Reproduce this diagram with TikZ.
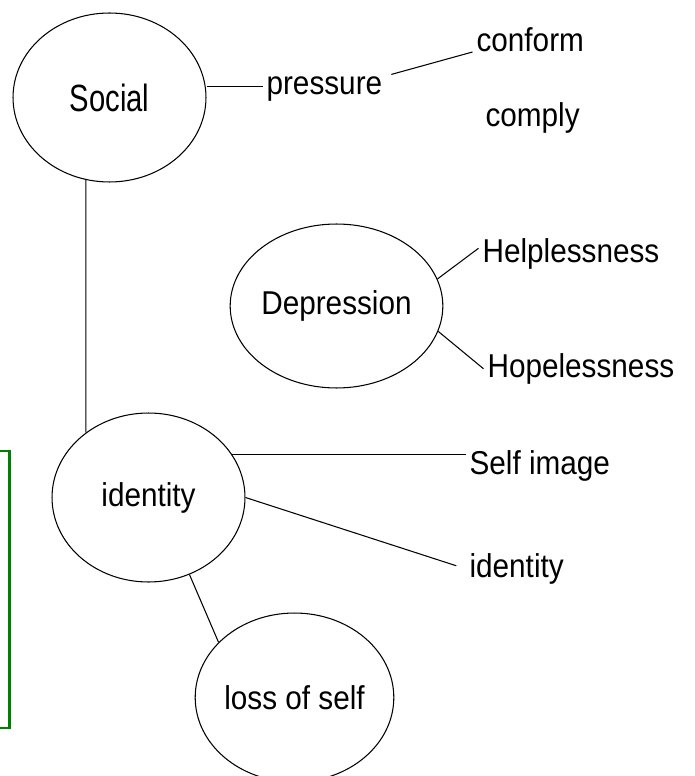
\documentclass[tikz,border=0pt]{standalone}
\usepackage{fontspec}
\newfontfamily\wordfont[FakeStretch=0.9]{Liberation Sans}
\newfontfamily\bigwordfont[FakeStretch=0.77]{Liberation Sans}
\usetikzlibrary{shapes.geometric}
\definecolor{framegreen}{RGB}{0,128,0}

\begin{document}
\begin{tikzpicture}[x=0.02cm,y=-0.02cm,line width=0.6pt,
    bubble/.style={draw,ellipse,minimum width=3.86cm,minimum height=3.38cm,inner sep=0pt,
      font=\wordfont\fontsize{18.8}{22}\selectfont},
    word/.style={inner xsep=2pt,inner ysep=0pt,text height=0.47cm,text depth=0.14cm,
      anchor=base west,font=\wordfont\fontsize{18.8}{22}\selectfont}]
      \useasboundingbox (0,0) rectangle (694,776);
      \node[bubble,font=\bigwordfont\fontsize{21.6}{26}\selectfont](soc) at (109.5,97.5){Social};
      \node[bubble,minimum height=3.28cm](dep) at (336.5,306){Depression};
      \node[bubble](id) at (148.5,497.5){identity};
      \node[bubble](loss) at (294.5,697.5){loss of self};
      \node[word](press) at (262.5,95){pressure};
      \node[word](conf) at (472.5,52){conform};
      \node[word](comp) at (481.5,127){comply};
      \node[word](help) at (478.5,263){Helplessness};
      \node[word](hope) at (483.5,377){Hopelessness};
      \node[word](self) at (465.5,474){Self image};
      \node[word](idw) at (465.5,577){identity};
      \path
        (soc.-106) edge (id.134)
        (press.west) edge (press.west -| soc.east)
        (press.10) edge[shorten <=3pt] (conf.base west)
        (dep.15) edge (help.176)
        (dep.-14) edge (hope.west)
        (id.27) edge (id.27 -| self.west)
        (id.east) edge[shorten >=5.5pt] (idw.west)
        (id.-62) edge (loss.144)
      ;
      % cut-off frame on the left
      \draw[framegreen,line width=1.5pt] (-20,451) rectangle (9.5,728);
    \end{tikzpicture}
\end{document}
